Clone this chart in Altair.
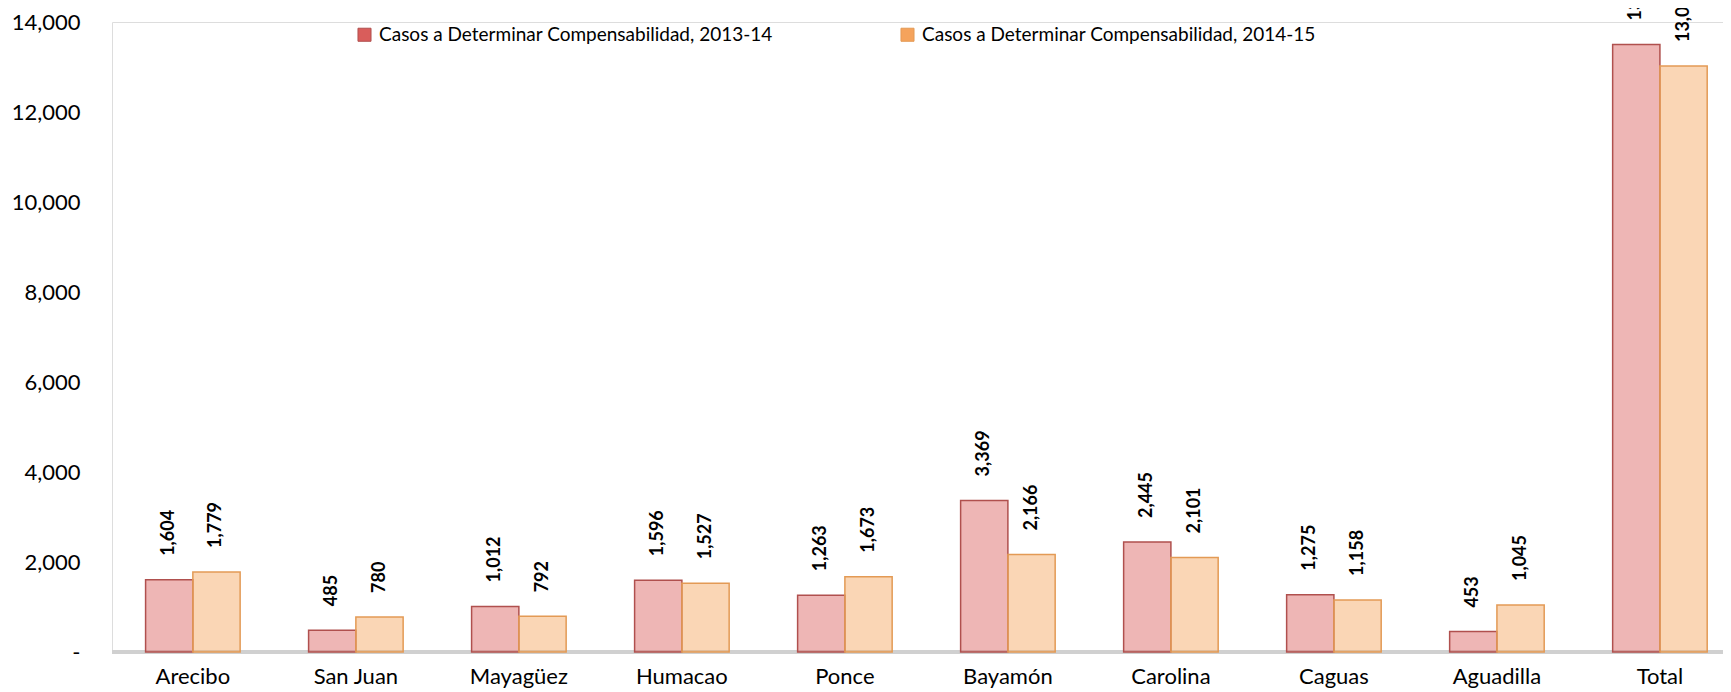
import altair as alt
import pandas as pd

categories = ["Arecibo", "San Juan", "Mayagüez", "Humacao", "Ponce",
              "Bayamón", "Carolina", "Caguas", "Aguadilla", "Total"]
series_names = ["Casos a Determinar Compensabilidad, 2013-14",
                "Casos a Determinar Compensabilidad, 2014-15"]
values_2013_14 = [1604, 485, 1012, 1596, 1263, 3369, 2445, 1275, 453, 13502]
values_2014_15 = [1779, 780, 792, 1527, 1673, 2166, 2101, 1158, 1045, 13021]
y_ticks = [0, 2000, 4000, 6000, 8000, 10000, 12000, 14000]

rows = []
for c, a, b in zip(categories, values_2013_14, values_2014_15):
    rows.append({"region": c, "serie": series_names[0], "casos": a})
    rows.append({"region": c, "serie": series_names[1], "casos": b})
df = pd.DataFrame(rows)

FONT = "Lato"

x_enc = alt.X("region:N", sort=categories, title=None,
              scale=alt.Scale(paddingInner=0.42, paddingOuter=0.1515, align=0.68),
              axis=alt.Axis(labelAngle=0, labelFontSize=22, labelFont=FONT,
                            labelColor="#000000", domain=False, ticks=False,
                            tickSize=0, labelPadding=14))
y_enc = alt.Y("casos:Q", title=None,
              scale=alt.Scale(domain=[0, 14000], nice=False),
              axis=alt.Axis(values=y_ticks, grid=False, domain=False, ticks=False,
                            tickSize=0, labelPadding=32, labelFontSize=22,
                            labelFont=FONT, labelColor="#000000",
                            labelExpr="datum.value == 0 ? '-' : format(datum.value, ',')"))
xoff = alt.XOffset("serie:N", sort=series_names,
                   scale=alt.Scale(paddingInner=0, paddingOuter=0))

floor = alt.Chart(df).mark_rule(color="#D0D0D0", strokeWidth=4).encode(
    y=alt.datum(0), x=alt.value(0), x2=alt.value(1611)
)

bars = alt.Chart(df).mark_bar(fillOpacity=0.45, strokeWidth=1.5).encode(
    x=x_enc,
    y=y_enc,
    xOffset=xoff,
    fill=alt.Fill("serie:N", sort=series_names,
                  scale=alt.Scale(domain=series_names, range=["#D95D5B", "#F5A35C"]),
                  legend=alt.Legend(title=None, orient="none", legendX=243, legendY=3,
                                    direction="horizontal", labelFontSize=19,
                                    labelFont=FONT, labelColor="#000000",
                                    symbolType="square", symbolSize=170,
                                    symbolOpacity=1, symbolStrokeWidth=1,
                                    labelOffset=5, columnPadding=125,
                                    labelLimit=600)),
    stroke=alt.Stroke("serie:N", sort=series_names,
                      scale=alt.Scale(domain=series_names, range=["#B0504E", "#E39A55"]),
                      legend=None),
)

labels = alt.Chart(df).mark_text(angle=270, align="left", baseline="middle", dx=24,
                                 fontSize=18, fontWeight="bold", font=FONT,
                                 color="#000000").encode(
    x=alt.X("region:N", sort=categories),
    y=alt.Y("casos:Q"),
    xOffset=xoff,
    text=alt.Text("casos:Q", format=","),
)

chart = alt.layer(floor, bars, labels).properties(
    width=1611, height=630,
    autosize=alt.AutoSizeParams(type="none"),
    padding={"left": 104, "top": 14, "right": 0, "bottom": 40},
).configure_view(stroke=None).configure(background="#FFFFFF")

chart.save("out.html", embed_options={"renderer": "svg", "actions": False})
